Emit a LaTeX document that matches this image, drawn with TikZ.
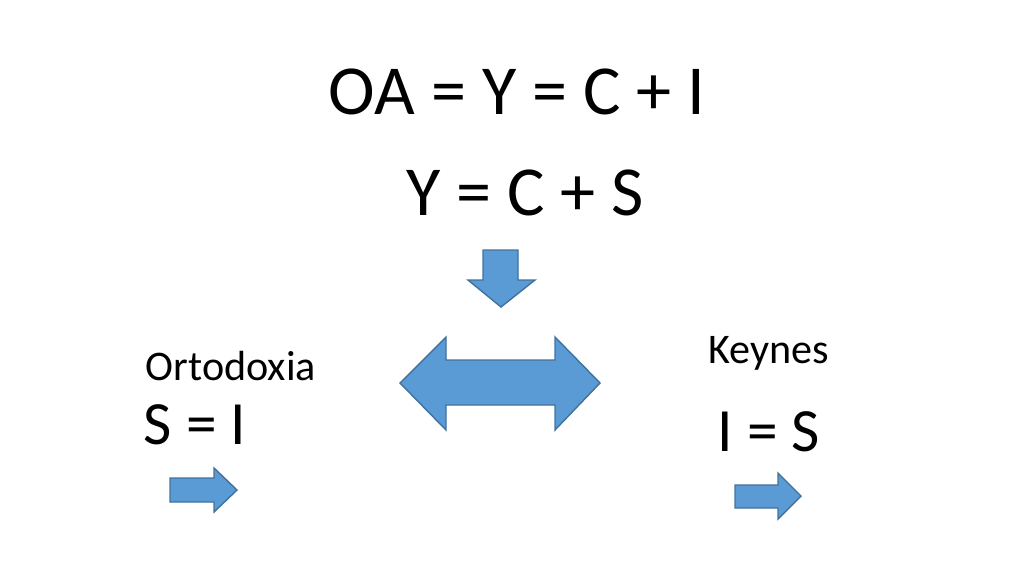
\documentclass[tikz,border=0pt]{standalone}
\usepackage{fontspec}
\setmainfont{Carlito}
\definecolor{arrowfill}{HTML}{5B9BD5}
\definecolor{arrowline}{HTML}{41719C}
\tikzset{
  blockarrow/.style={fill=arrowfill, draw=arrowline, line width=0.8pt, line join=miter},
  bigeq/.style={font=\fontsize{40}{44}\selectfont},
  mideq/.style={font=\fontsize{35}{40}\selectfont},
  label/.style={font=\fontsize{24}{28}\selectfont}
}
\begin{document}
\begin{tikzpicture}[x=0.02cm, y=-0.02cm]
  \useasboundingbox (0,0) rectangle (1024,576);

  \node[bigeq] (oaEq) at (517,92) {OA = Y = C + I};
  \node[bigeq] (ycsEq) at (525,193) {Y = C + S};

  % down arrow
  \draw[blockarrow] (483,250) -- (518,250) -- (518,280) -- (535,280) -- (501,307)
    -- (468,280) -- (483,280) -- cycle;

  % double arrow
  \draw[blockarrow] (400,383) -- (446,337) -- (446,360) -- (555,360) -- (555,337)
    -- (600,383) -- (555,430) -- (555,405) -- (446,405) -- (446,430) -- cycle;

  \node[label] (ortodoxia) at (231,366) {Ortodoxia};
  \node[mideq] (siEq) at (195,425) {S = I};
  \node[label] (keynes) at (769,353) {Keynes};
  \node[mideq] (isEq) at (769,432) {I = S};

  % small arrows
  \draw[blockarrow] (170,478) -- (214,478) -- (214,468) -- (237,490) -- (214,512)
    -- (214,502) -- (170,502) -- cycle;
  \draw[blockarrow] (735,485) -- (778,485) -- (778,473) -- (801,496) -- (778,519)
    -- (778,508) -- (735,508) -- cycle;
\end{tikzpicture}
\end{document}
